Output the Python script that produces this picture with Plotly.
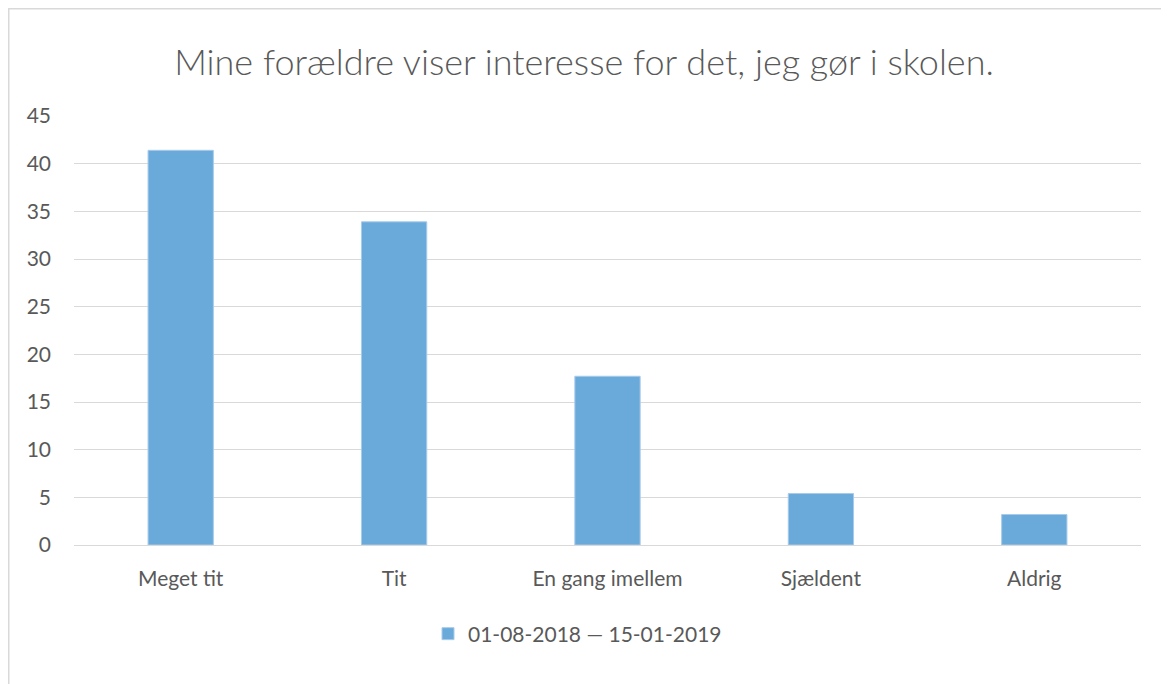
import plotly.graph_objects as go

categories = ["Meget tit", "Tit", "En gang imellem", "Sjældent", "Aldrig"]
values = [41.4, 33.9, 17.7, 5.4, 3.2]
series_name = "01-08-2018 — 15-01-2019"
title_text = "Mine forældre viser interesse for det, jeg gør i skolen."
y_ticks = [0, 5, 10, 15, 20, 25, 30, 35, 40, 45]

# page has an 8px body margin; figure coordinates = page coordinates - 8
OFF = 8
W, H = 1169 - OFF, 684 - OFF
L, R, T, B = 74 - OFF, 1141 - OFF, 116 - OFF, 545 - OFF

fig = go.Figure()
fig.add_trace(go.Bar(
    x=categories, y=values, name=series_name,
    marker=dict(color="#6AAADA", line=dict(color="#A8CBEA", width=1)),
    showlegend=True,
))

gray = "#595959"
fig.update_layout(
    width=W, height=H,
    margin=dict(l=L, r=W - R, t=T, b=H - B, autoexpand=False),
    paper_bgcolor="white", plot_bgcolor="white",
    bargap=0.694,
    font=dict(family="Lato", color=gray, size=21),
    title=dict(text=title_text, x=(584 - OFF) / W, xanchor="center", y=1 - (62 - OFF) / H, yanchor="middle",
               font=dict(family="Lato", size=36, color=gray, weight=300)),
    showlegend=True,
    legend=dict(orientation="h", x=0.5 - 30 / (R - L), xanchor="center", y=(545 - 634) / (B - T),
                yanchor="middle", font=dict(size=21, color=gray), itemwidth=30),
    xaxis=dict(showgrid=False, showline=True, linecolor="#D9D9D9", linewidth=1,
               ticks="", tickfont=dict(size=21, color=gray), ticklabelstandoff=15, fixedrange=True),
    yaxis=dict(range=[0, 45], tickvals=y_ticks, showgrid=True, gridcolor="#D9D9D9", gridwidth=1,
               zeroline=False, showline=False, ticks="", tickfont=dict(size=21, color=gray),
               ticklabelstandoff=22, fixedrange=True),
    shapes=[dict(type="rect", xref="paper", yref="paper",
                 x0=(0.75 - L) / (R - L), x1=(1200 - L) / (R - L),
                 y0=(B - 720) / (B - T), y1=(B - 0.75) / (B - T),
                 line=dict(color="#D9D9D9", width=1.5), fillcolor="rgba(0,0,0,0)", layer="below")],
)

fig.write_html("out.html")
